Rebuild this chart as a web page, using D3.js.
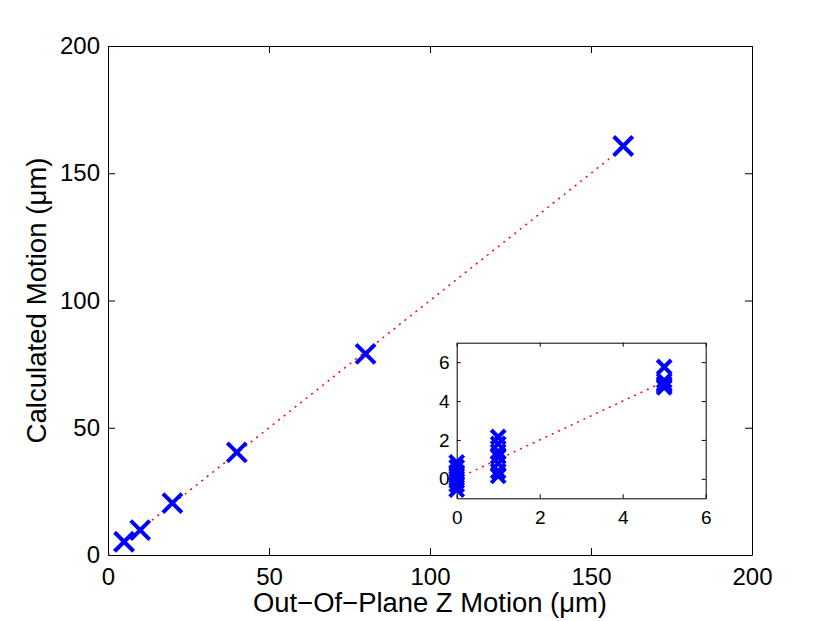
<html>
<head>
<script src="https://cdn.jsdelivr.net/npm/d3@7"></script>
<style>
  body { margin: 0; background: white; }
  text { font-family: "Liberation Sans", Arial, sans-serif; fill: black; }
</style>
</head>
<body>
<div id="output"></div>
<script>
    var width = 830, height = 621;

    // main plot data
    var mainX = [5, 10, 20, 40, 80, 160];
    var mainY = [5.2, 9.8, 20.4, 40.3, 79, 160.7];
    var fitX = [0, 5, 10, 20, 40, 80, 160];
    var fitY = [0, 5, 10, 20, 40, 80, 160];
    var mainTicks = [0, 50, 100, 150, 200];

    // inset data (repeated trials at each displacement)
    var insetX0 = [0, 0, 0, 0, 0, 0, 0];
    var insetY0 = [0.85, 0.6, 0.35, 0.15, -0.1, -0.3, -0.55];
    var insetX1 = [1, 1, 1, 1, 1, 1, 1];
    var insetY1 = [2.15, 1.8, 1.4, 1.15, 0.8, 0.4, 0.15];
    var insetX5 = [5, 5, 5, 5, 5];
    var insetY5 = [5.75, 5.05, 4.9, 4.8, 4.7];
    var insetFitX = [0, 1, 5];
    var insetFitY = [0, 1, 5];
    var insetXTicks = [0, 2, 4, 6];
    var insetYTicks = [0, 2, 4, 6];

    var blue = '#0000ff';
    var red = '#ff0000';

    var svg = d3.select('#output').append('svg')
        .attr('width', width)
        .attr('height', height);

    svg.append('rect').attr('width', width).attr('height', height).attr('fill', 'white');

    var zip = function(xs, ys) { return xs.map((x, i) => [x, ys[i]]); };

    // draw one MATLAB style axes box with inward ticks on all four sides
    var drawAxes = function(g, x, y, xticks, yticks, o) {
        var x0 = x.range()[0], x1 = x.range()[1];
        var y0 = y.range()[0], y1 = y.range()[1];
        var fmt = d3.format('d');

        var bottom = g.append('g').attr('transform', 'translate(0,' + y0 + ')')
            .call(d3.axisBottom(x).tickValues(xticks).tickFormat(fmt)
                .tickSizeInner(-o.tick).tickSizeOuter(0).tickPadding(o.xpad));
        var top = g.append('g').attr('transform', 'translate(0,' + y1 + ')')
            .call(d3.axisTop(x).tickValues(xticks).tickSizeInner(-o.tick).tickSizeOuter(0).tickFormat(''));
        var left = g.append('g').attr('transform', 'translate(' + x0 + ',0)')
            .call(d3.axisLeft(y).tickValues(yticks).tickFormat(fmt)
                .tickSizeInner(-o.tick).tickSizeOuter(0).tickPadding(o.ypad));
        var right = g.append('g').attr('transform', 'translate(' + x1 + ',0)')
            .call(d3.axisRight(y).tickValues(yticks).tickSizeInner(-o.tick).tickSizeOuter(0).tickFormat(''));

        [bottom, top, left, right].forEach(a => {
            a.selectAll('path, line').attr('stroke', 'black').attr('stroke-width', 1);
            a.selectAll('text').style('font-size', o.font + 'px')
                .style('font-family', '"Liberation Sans", Arial, sans-serif');
        });
    };

    var drawFit = function(g, x, y, pts) {
        g.append('path')
            .attr('d', d3.line().x(d => x(d[0])).y(d => y(d[1]))(pts))
            .attr('fill', 'none')
            .attr('stroke', red)
            .attr('stroke-width', 1.5)
            .attr('stroke-dasharray', '2,5');
    };

    var drawCrosses = function(g, x, y, pts, r, w) {
        g.selectAll(null).data(pts).enter().append('path')
            .attr('d', d => {
                var cx = x(d[0]), cy = y(d[1]);
                return 'M' + (cx - r) + ' ' + (cy - r) + 'L' + (cx + r) + ' ' + (cy + r) +
                       'M' + (cx - r) + ' ' + (cy + r) + 'L' + (cx + r) + ' ' + (cy - r);
            })
            .attr('stroke', blue)
            .attr('stroke-width', w)
            .attr('fill', 'none');
    };

    // ---- main axes
    var x = d3.scaleLinear().domain([0, 200]).range([108, 752]);
    var y = d3.scaleLinear().domain([0, 200]).range([555, 46]);
    var main = svg.append('g');

    drawAxes(main, x, y, mainTicks, mainTicks, {tick: 7, xpad: 13, ypad: 8, font: 24});
    drawFit(main, x, y, zip(fitX, fitY));
    drawCrosses(main, x, y, zip(mainX, mainY), 9.5, 4);

    main.append('text')
        .attr('x', (108 + 752) / 2)
        .attr('y', 612)
        .attr('text-anchor', 'middle')
        .attr('textLength', 354)
        .attr('lengthAdjust', 'spacingAndGlyphs')
        .style('font-size', '27px')
        .text('Out\u2212Of\u2212Plane Z Motion (\u03bcm)');

    main.append('text')
        .attr('transform', 'translate(46,' + (555 + 46) / 2 + ') rotate(-90)')
        .attr('text-anchor', 'middle')
        .attr('textLength', 286)
        .attr('lengthAdjust', 'spacingAndGlyphs')
        .style('font-size', '27px')
        .text('Calculated Motion (\u03bcm)');

    // ---- inset axes
    var ix = d3.scaleLinear().domain([0, 6]).range([456.7, 705.7]);
    var iy = d3.scaleLinear().domain([-1, 7]).range([498.3, 342.7]);
    var inset = svg.append('g');

    inset.append('rect')
        .attr('x', 456.7).attr('y', 342.7)
        .attr('width', 705.7 - 456.7).attr('height', 498.3 - 342.7)
        .attr('fill', 'white');

    drawAxes(inset, ix, iy, insetXTicks, insetYTicks, {tick: 4, xpad: 12, ypad: 7, font: 19});
    drawFit(inset, ix, iy, zip(insetFitX, insetFitY));
    drawCrosses(inset, ix, iy, zip(insetX0, insetY0), 7, 4);
    drawCrosses(inset, ix, iy, zip(insetX1, insetY1), 7, 4);
    drawCrosses(inset, ix, iy, zip(insetX5, insetY5), 7, 4);
</script>
</body>
</html>
